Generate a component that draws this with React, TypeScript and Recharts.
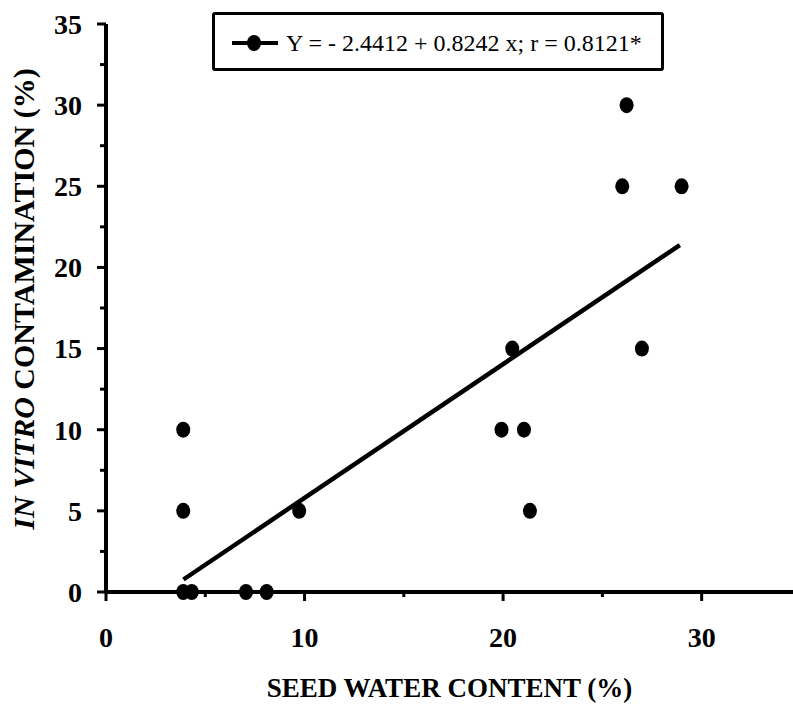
import React from 'react';
import { ComposedChart, Scatter, XAxis, YAxis } from 'recharts';

const waterContent = [3.89, 3.89, 3.89, 4.32, 7.05, 8.09, 9.73, 19.92, 20.46, 21.05, 21.35, 26.0, 26.22, 26.99, 28.99];
const contamination = [10, 5, 0, 0, 0, 0, 5, 10, 15, 10, 5, 25, 30, 15, 25];

const trendX = [3.9, 28.9];
const trendY = [0.77, 21.38];

const xTicks = [0, 5, 10, 15, 20, 25, 30];
const xLabelTicks = [0, 10, 20, 30];
const yTicks = [0, 2.5, 5, 7.5, 10, 12.5, 15, 17.5, 20, 22.5, 25, 27.5, 30, 32.5, 35];
const yLabelTicks = [0, 5, 10, 15, 20, 25, 30, 35];

const legendText = 'Y = - 2.4412 + 0.8242 x; r = 0.8121*';
const xTitle = 'SEED WATER CONTENT (%)';
const yTitleItalic = 'IN VITRO';
const yTitleRest = ' CONTAMINATION (%)';

const points = waterContent.map((x, i) => ({ x, y: contamination[i] }));
const trend = trendX.map((x, i) => ({ x, y: trendY[i] }));

const FONT = '"Liberation Serif", "Times New Roman", serif';

const XTick = (props: any) => {
  const { x, y, payload } = props;
  const major = xLabelTicks.includes(payload.value);
  return (
    <g>
      <line x1={x} x2={x} y1={y} y2={y + (major ? 9 : 5)} stroke="#000" strokeWidth={3} />
      {major && (
        <text x={x} y={y + 55} textAnchor="middle" fontFamily={FONT} fontWeight="bold" fontSize={28} fill="#000">
          {payload.value}
        </text>
      )}
    </g>
  );
};

const YTick = (props: any) => {
  const { x, y, payload } = props;
  const major = yLabelTicks.includes(payload.value);
  return (
    <g>
      <line x1={x - (major ? 9 : 6)} x2={x} y1={y} y2={y} stroke="#000" strokeWidth={3} />
      {major && (
        <text x={x - 24} y={y} dy="0.35em" textAnchor="end" fontFamily={FONT} fontWeight="bold" fontSize={28} fill="#000">
          {payload.value}
        </text>
      )}
    </g>
  );
};

const XTitle = (props: any) => {
  const vb = props.viewBox;
  return (
    <text x={vb.x + vb.width / 2} y={vb.y + 105} textAnchor="middle" fontFamily={FONT} fontWeight="bold" fontSize={27} fill="#000">
      {xTitle}
    </text>
  );
};

const YTitle = (props: any) => {
  const vb = props.viewBox;
  const cx = 34;
  const cy = vb.y + vb.height / 2 - 9;
  return (
    <text x={cx} y={cy} textAnchor="middle" transform={`rotate(-90, ${cx}, ${cy})`} fontFamily={FONT} fontWeight="bold" fontSize={30} fill="#000">
      <tspan fontStyle="italic">{yTitleItalic}</tspan>
      <tspan>{yTitleRest}</tspan>
    </text>
  );
};

const Dot = (props: any) => {
  const { cx, cy } = props;
  return <ellipse cx={cx} cy={cy} rx={7} ry={8} fill="#000" />;
};

const NoShape = () => <g />;

export default function App() {
  return (
    <div style={{ position: 'fixed', left: 0, top: 0, width: 793, height: 705, overflow: 'hidden', background: '#fff' }}>
      <ComposedChart width={793} height={705} margin={{ top: 24, right: 0, bottom: 0, left: 0 }}>
        <XAxis
          type="number"
          dataKey="x"
          domain={[0, 34.6]}
          ticks={xTicks}
          interval={0}
          tickSize={0}
          tickMargin={0}
          tick={<XTick />}
          axisLine={{ stroke: '#000', strokeWidth: 4 }}
          tickLine={false}
          height={113}
          allowDataOverflow
          label={<XTitle />}
        />
        <YAxis
          type="number"
          dataKey="y"
          domain={[0, 35]}
          ticks={yTicks}
          interval={0}
          tickSize={0}
          tickMargin={0}
          tick={<YTick />}
          axisLine={{ stroke: '#000', strokeWidth: 4 }}
          tickLine={false}
          width={106}
          label={<YTitle />}
        />
        <Scatter data={points} fill="#000" shape={<Dot />} isAnimationActive={false} />
        <Scatter
          data={trend}
          line={{ stroke: '#000', strokeWidth: 4.5 }}
          shape={<NoShape />}
          isAnimationActive={false}
        />
      </ComposedChart>
      <div
        style={{
          position: 'absolute',
          left: 212,
          top: 12,
          width: 452,
          height: 59,
          border: '3px solid #000',
          borderRadius: 3,
          background: '#fff',
          boxSizing: 'border-box',
          display: 'flex',
          alignItems: 'center',
          paddingLeft: 17,
          paddingTop: 3,
          fontFamily: FONT,
          fontSize: 24,
          color: '#000',
          whiteSpace: 'nowrap',
        }}
      >
        <svg width={46} height={20} style={{ display: 'block' }}>
          <line x1={0} x2={46} y1={10} y2={10} stroke="#000" strokeWidth={4} />
          <ellipse cx={22} cy={10} rx={7} ry={8} fill="#000" />
        </svg>
        <span style={{ marginLeft: 8 }}>{legendText}</span>
      </div>
    </div>
  );
}
